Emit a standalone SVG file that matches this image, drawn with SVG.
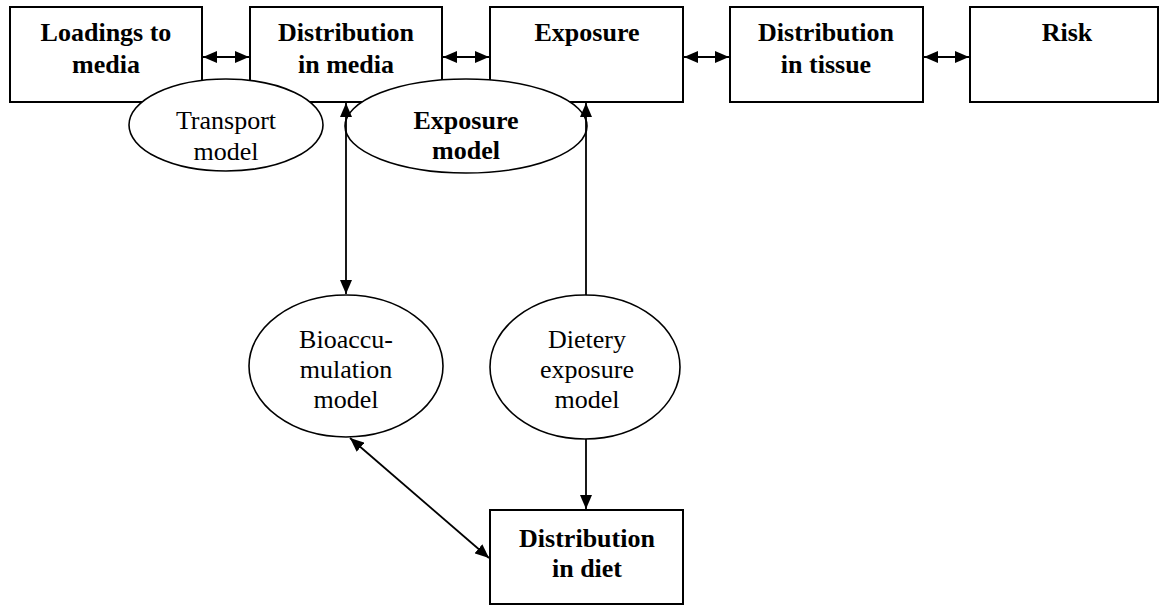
<svg xmlns="http://www.w3.org/2000/svg" width="1161" height="607" viewBox="0 0 1161 607">
<style>
.box{fill:#fff;stroke:#000;stroke-width:2}
.ell{fill:#fff;stroke:#000;stroke-width:1.6}
.b{font-family:"Liberation Serif","Times New Roman",serif;font-weight:bold;font-size:26px;text-anchor:middle;fill:#000}
.r{font-family:"Liberation Serif","Times New Roman",serif;font-size:26px;text-anchor:middle;fill:#000}
.ln{stroke:#000;stroke-width:1.8;fill:none}
</style>
<defs>
<marker id="ah" viewBox="0 0 14 12" refX="14" refY="6" markerWidth="14" markerHeight="12" markerUnits="userSpaceOnUse" orient="auto-start-reverse">
<path d="M0,0 L14,6 L0,12 Z" fill="#000"/>
</marker>
</defs>
<g id="n-loadings"><rect class="box" x="10" y="7" width="192" height="95"/><text class="b" x="106" y="41">Loadings to</text><text class="b" x="106" y="73">media</text></g>
<g id="n-distmedia"><rect class="box" x="250" y="7" width="192" height="95"/><text class="b" x="346" y="41">Distribution</text><text class="b" x="346" y="73">in media</text></g>
<g id="n-exposure"><rect class="box" x="490" y="7" width="193" height="95"/><text class="b" x="587" y="41">Exposure</text></g>
<g id="n-disttissue"><rect class="box" x="730" y="7" width="193" height="95"/><text class="b" x="826" y="41">Distribution</text><text class="b" x="826" y="73">in tissue</text></g>
<g id="n-risk"><rect class="box" x="970" y="7" width="188" height="95"/><text class="b" x="1067" y="41">Risk</text></g>
<g id="n-transport"><ellipse class="ell" cx="226" cy="125" rx="97" ry="46"/><text class="r" x="226" y="129">Transport</text><text class="r" x="226" y="160">model</text></g>
<g id="n-expmodel"><ellipse class="ell" cx="466" cy="126" rx="121" ry="47"/><text class="b" x="466" y="129">Exposure</text><text class="b" x="466" y="159">model</text></g>
<g id="n-bioacc"><ellipse class="ell" cx="346" cy="366" rx="97" ry="71"/><text class="r" x="346" y="348">Bioaccu-</text><text class="r" x="346" y="378">mulation</text><text class="r" x="346" y="408">model</text></g>
<g id="n-dietery"><ellipse class="ell" cx="585" cy="367" rx="95" ry="72"/><text class="r" x="587" y="348">Dietery</text><text class="r" x="587" y="378">exposure</text><text class="r" x="587" y="408">model</text></g>
<g id="n-distdiet"><rect class="box" x="490" y="510" width="193" height="94"/><text class="b" x="587" y="547">Distribution</text><text class="b" x="587" y="577">in diet</text></g>
<g id="connectors">
<line class="ln" x1="203" y1="57" x2="249" y2="57" marker-start="url(#ah)" marker-end="url(#ah)"/>
<line class="ln" x1="443" y1="57" x2="489" y2="57" marker-start="url(#ah)" marker-end="url(#ah)"/>
<line class="ln" x1="684" y1="57" x2="729" y2="57" marker-start="url(#ah)" marker-end="url(#ah)"/>
<line class="ln" x1="924" y1="57" x2="969" y2="57" marker-start="url(#ah)" marker-end="url(#ah)"/>
<line class="ln" x1="346" y1="103" x2="346" y2="294" marker-start="url(#ah)" marker-end="url(#ah)"/>
<line class="ln" x1="586" y1="295" x2="586" y2="103" marker-end="url(#ah)"/>
<line class="ln" x1="586" y1="439" x2="586" y2="509" marker-end="url(#ah)"/>
<line class="ln" x1="350" y1="438" x2="489" y2="558" marker-start="url(#ah)" marker-end="url(#ah)"/>
</g>
</svg>
